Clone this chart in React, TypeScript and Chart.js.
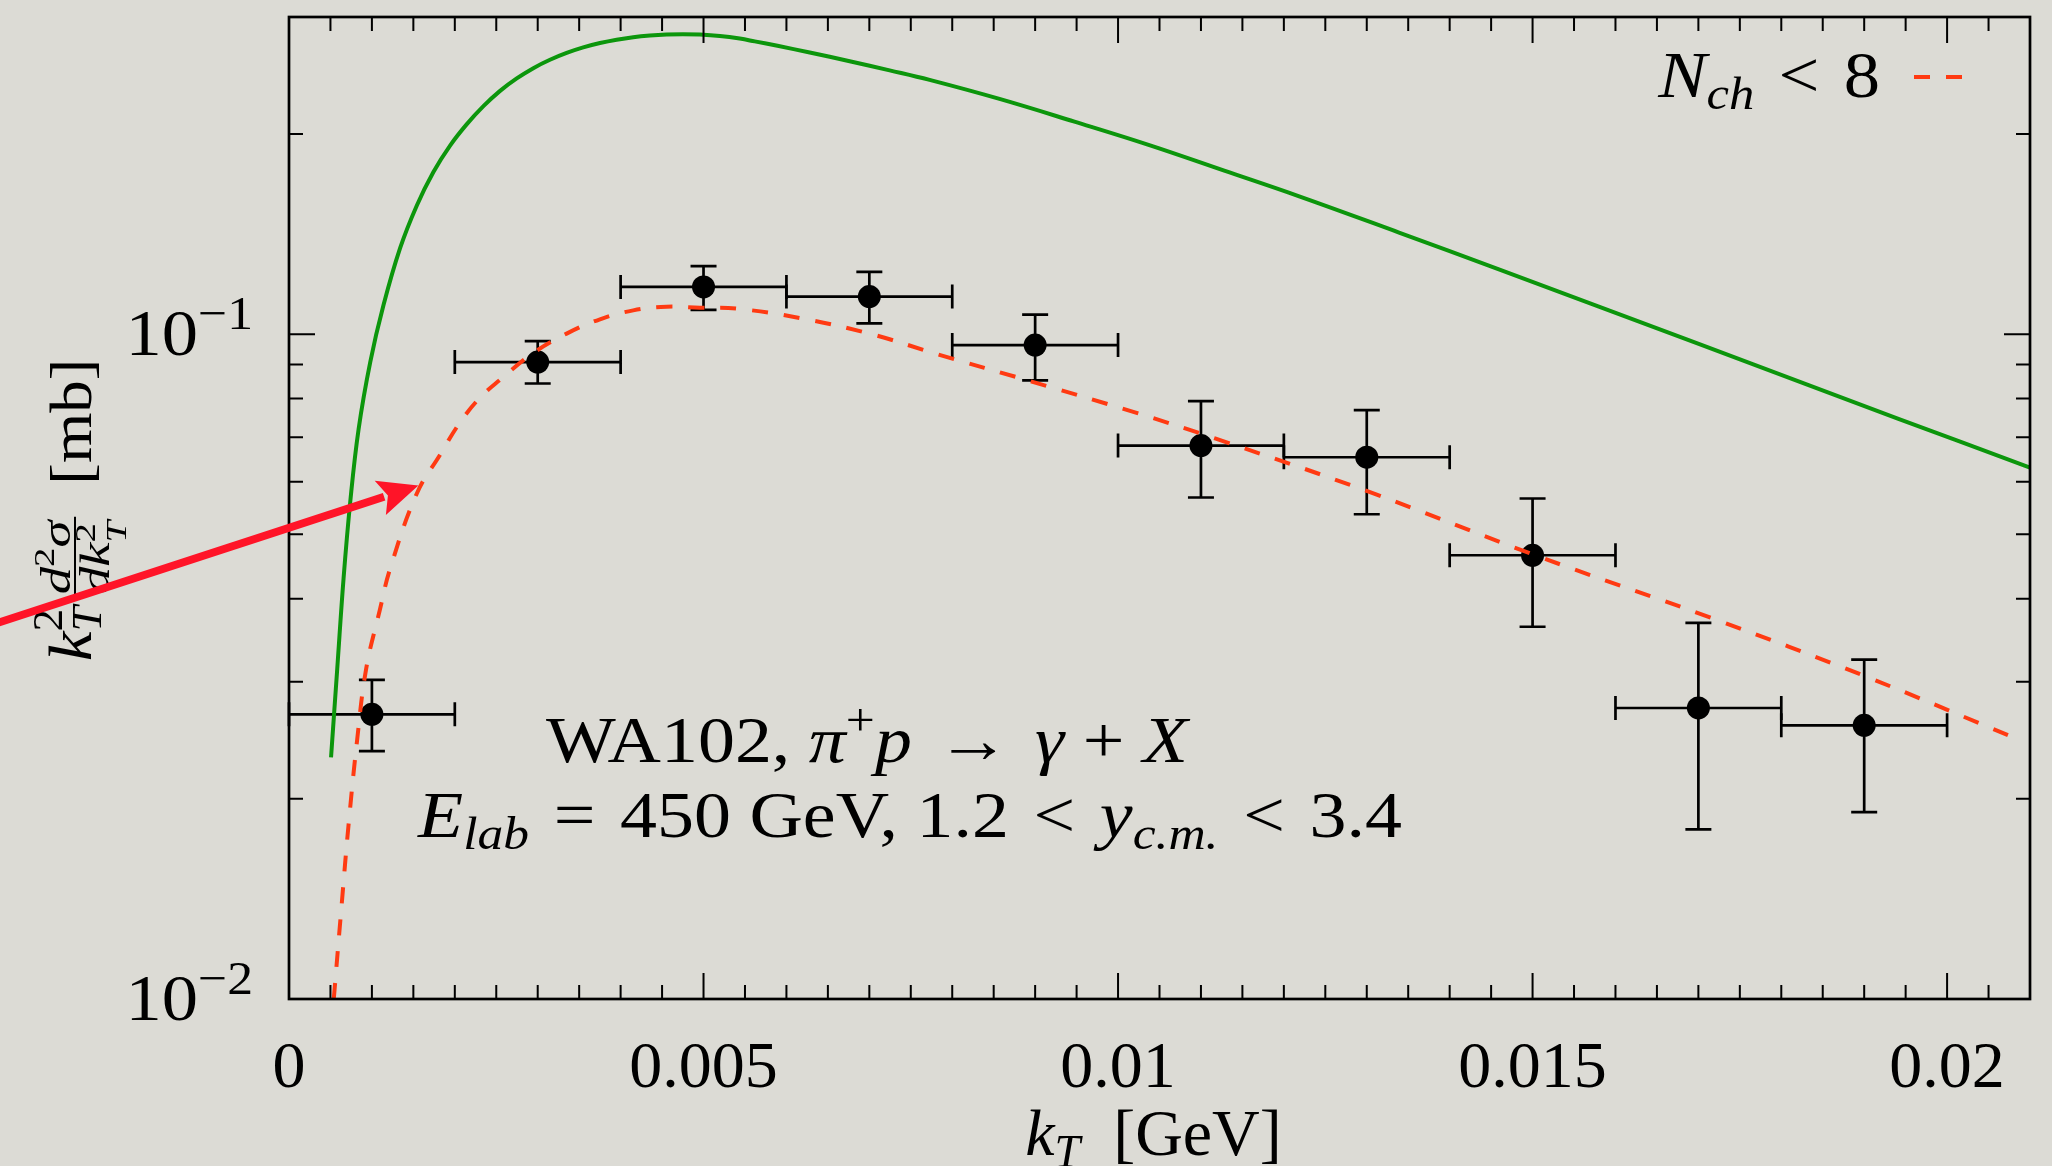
import React, { useEffect, useRef } from 'react';
import { Chart, registerables } from 'chart.js';

Chart.register(...registerables);

const FONT = '"Liberation Serif", "Times New Roman", serif';
const BG = '#dcdbd5';
const GREEN = '#0c960c';
const RED = '#ff3a12';
const ARROW_RED = '#ff1428';

// ---- measured data (WA102) ----
const dataKT = [0.001, 0.003, 0.005, 0.007, 0.009, 0.011, 0.013, 0.015, 0.017, 0.019];
const dataKTErr = [0.001, 0.001, 0.001, 0.001, 0.001, 0.001, 0.001, 0.001, 0.001, 0.001];
const dataValue = [0.0268, 0.0908, 0.1178, 0.1139, 0.0963, 0.068, 0.0653, 0.0465, 0.0274, 0.0258];
const dataUpper = [0.0302, 0.0976, 0.1266, 0.1241, 0.107, 0.0793, 0.0769, 0.0566, 0.0368, 0.0324];
const dataLower = [0.0236, 0.0843, 0.1088, 0.1038, 0.0852, 0.0568, 0.0536, 0.0363, 0.018, 0.0191];

// ---- green solid curve ----
const greenKT = [0.000507, 0.000582, 0.000658, 0.000739, 0.000839, 0.00098, 0.00114, 0.001341, 0.001542, 0.001742,
  0.001943, 0.002145, 0.002345, 0.002546, 0.002747, 0.002947, 0.003148, 0.003349, 0.003549, 0.003751,
  0.003952, 0.004152, 0.004353, 0.004554, 0.004751, 0.004955, 0.005197, 0.005437, 0.005618, 0.005892,
  0.006281, 0.006763, 0.007245, 0.007727, 0.00857, 0.009474, 0.010377, 0.011281, 0.012185, 0.013389,
  0.014594, 0.017004, 0.019413, 0.021];
const greenValue = [0.0231, 0.0314, 0.0429, 0.056, 0.0719, 0.0908, 0.1106, 0.1348, 0.1562, 0.1754,
  0.1922, 0.207, 0.2203, 0.2323, 0.2425, 0.2513, 0.2587, 0.2649, 0.27, 0.2741,
  0.2773, 0.2797, 0.2813, 0.2823, 0.2827, 0.2823, 0.2809, 0.2784, 0.2757, 0.2715,
  0.2653, 0.2574, 0.2494, 0.2413, 0.2259, 0.2088, 0.1925, 0.1762, 0.1612, 0.1422,
  0.1252, 0.0967, 0.0746, 0.063];

// ---- red dashed curve (N_ch < 8) ----
const redKT = [0.00054, 0.000636, 0.000717, 0.000823, 0.000931, 0.001094, 0.00122, 0.001542, 0.001823, 0.002064,
  0.002305, 0.002546, 0.002947, 0.003349, 0.003751, 0.004152, 0.004554, 0.004955, 0.005413, 0.006172,
  0.007004, 0.007834, 0.00894, 0.010184, 0.01117, 0.013015, 0.015012, 0.017164, 0.019007, 0.020813];
const redValue = [0.01, 0.0139, 0.0182, 0.0246, 0.0314, 0.0384, 0.0444, 0.0576, 0.0659, 0.0737,
  0.0803, 0.0854, 0.0937, 0.1002, 0.1053, 0.1086, 0.11, 0.1096, 0.1092, 0.1057,
  0.1002, 0.0932, 0.085, 0.0764, 0.0697, 0.058, 0.0466, 0.0374, 0.0306, 0.0247];

// ---- axes ----
const X_MIN = 0;
const X_MAX = 0.021;
const Y_MIN = 0.01;
const Y_MAX = 0.3;
const xMajorTicks = [0, 0.005, 0.01, 0.015, 0.02];
const xTickLabels = ['0', '0.005', '0.01', '0.015', '0.02'];
const X_MINOR_STEP = 0.0005;
const yMajorTicks = [0.01, 0.1];
const yTickExponents = ['\u22122', '\u22121'];
const yMinorTicks = [0.02, 0.03, 0.04, 0.05, 0.06, 0.07, 0.08, 0.09, 0.2, 0.3];

// arrow tip (data coordinates)
const arrowTip = { x: 0.00156, y: 0.0592 };

type Seg = { t: string; it?: boolean; size: number; dy?: number; stack?: boolean };

function fontOf(s: Seg) {
  return `${s.it ? 'italic ' : ''}${s.size}px ${FONT}`;
}

function segsWidth(ctx: CanvasRenderingContext2D, segs: Seg[], k = 1) {
  let w = 0;
  let pend = 0;
  for (const s of segs) {
    ctx.font = fontOf(s);
    const sw = ctx.measureText(s.t).width;
    if (s.stack) {
      pend = sw;
    } else {
      w += Math.max(sw, pend);
      pend = 0;
    }
  }
  return w * k;
}

function drawSegs(ctx: CanvasRenderingContext2D, segs: Seg[], x: number, y: number, k = 1) {
  ctx.save();
  ctx.translate(x, y);
  ctx.scale(k, 1);
  let cx = 0;
  let pend = 0;
  ctx.textAlign = 'left';
  ctx.textBaseline = 'alphabetic';
  for (const s of segs) {
    ctx.font = fontOf(s);
    const sw = ctx.measureText(s.t).width;
    ctx.fillText(s.t, cx, s.dy || 0);
    if (s.stack) {
      pend = sw;
    } else {
      cx += Math.max(sw, pend);
      pend = 0;
    }
  }
  ctx.restore();
  return x + cx * k;
}

const decor = {
  id: 'decor',
  beforeDraw(chart: any) {
    const { ctx, width, height } = chart;
    ctx.save();
    ctx.fillStyle = BG;
    ctx.fillRect(0, 0, width, height);
    ctx.restore();
  },
  beforeDatasetsDraw(chart: any) {
    const { ctx } = chart;
    const xs = chart.scales.x;
    const ys = chart.scales.y;
    ctx.save();
    ctx.strokeStyle = '#000';
    ctx.lineWidth = 2.7;
    const cap = 12;
    for (let i = 0; i < dataKT.length; i++) {
      const px = xs.getPixelForValue(dataKT[i]);
      const py = ys.getPixelForValue(dataValue[i]);
      const xl = xs.getPixelForValue(dataKT[i] - dataKTErr[i]);
      const xr = xs.getPixelForValue(dataKT[i] + dataKTErr[i]);
      const yt = ys.getPixelForValue(dataUpper[i]);
      const yb = ys.getPixelForValue(dataLower[i]);
      ctx.beginPath();
      ctx.moveTo(xl, py); ctx.lineTo(xr, py);
      ctx.moveTo(xl, py - cap); ctx.lineTo(xl, py + cap);
      ctx.moveTo(xr, py - cap); ctx.lineTo(xr, py + cap);
      ctx.moveTo(px, yt); ctx.lineTo(px, yb);
      ctx.moveTo(px - 13, yt); ctx.lineTo(px + 13, yt);
      ctx.moveTo(px - 13, yb); ctx.lineTo(px + 13, yb);
      ctx.stroke();
    }
    ctx.restore();
  },
  afterDraw(chart: any) {
    const { ctx, chartArea } = chart;
    const { left, right, top, bottom } = chartArea;
    const xs = chart.scales.x;
    const ys = chart.scales.y;
    ctx.save();
    ctx.fillStyle = '#000';
    ctx.strokeStyle = '#000';

    // ticks
    ctx.lineWidth = 2;
    const MAJ = 26;
    const MIN = 14;
    ctx.beginPath();
    for (const v of xMajorTicks) {
      const p = xs.getPixelForValue(v);
      ctx.moveTo(p, bottom); ctx.lineTo(p, bottom - MAJ);
      ctx.moveTo(p, top); ctx.lineTo(p, top + MAJ);
    }
    for (let i = 1; X_MIN + i * X_MINOR_STEP < X_MAX - 1e-9; i++) {
      if (i % 10 === 0) continue;
      const p = xs.getPixelForValue(X_MIN + i * X_MINOR_STEP);
      ctx.moveTo(p, bottom); ctx.lineTo(p, bottom - MIN);
      ctx.moveTo(p, top); ctx.lineTo(p, top + MIN);
    }
    for (const v of yMajorTicks) {
      const p = ys.getPixelForValue(v);
      ctx.moveTo(left, p); ctx.lineTo(left + MAJ, p);
      ctx.moveTo(right, p); ctx.lineTo(right - MAJ, p);
    }
    for (const v of yMinorTicks) {
      if (v >= Y_MAX) continue;
      const p = ys.getPixelForValue(v);
      ctx.moveTo(left, p); ctx.lineTo(left + MIN, p);
      ctx.moveTo(right, p); ctx.lineTo(right - MIN, p);
    }
    ctx.stroke();

    // frame
    ctx.lineWidth = 2.7;
    ctx.strokeRect(left, top, right - left, bottom - top);

    // x tick labels
    ctx.font = `66px ${FONT}`;
    ctx.textAlign = 'center';
    ctx.textBaseline = 'alphabetic';
    xMajorTicks.forEach((v, i) => {
      ctx.fillText(xTickLabels[i], xs.getPixelForValue(v), bottom + 88);
    });

    // y tick labels 10^{-n}
    yMajorTicks.forEach((v, i) => {
      const p = ys.getPixelForValue(v);
      const segs: Seg[] = [
        { t: '10', size: 66 },
        { t: yTickExponents[i], size: 47, dy: -26 },
      ];
      const k = 1.1;
      const w = segsWidth(ctx, segs, k);
      drawSegs(ctx, segs, left - 36 - w, p + 21, k);
    });

    // x axis title
    const xt: Seg[] = [
      { t: 'k', it: true, size: 66 },
      { t: 'T', it: true, size: 46, dy: 12 },
      { t: '  [GeV]', size: 66 },
    ];
    const xtw = segsWidth(ctx, xt);
    drawSegs(ctx, xt, (left + right) / 2 - 6 - xtw / 2, bottom + 156);

    // y axis title (rotated)
    ctx.save();
    ctx.translate(left - 198, (top + bottom) / 2 + 2);
    ctx.rotate(-Math.PI / 2);
    const MK = 1.08;
    const FK = 1.3;
    const kPart: Seg[] = [
      { t: 'k', it: true, size: 62 },
      { t: '2', size: 42, dy: -29, stack: true },
      { t: 'T', it: true, size: 42, dy: 10 },
    ];
    const num: Seg[] = [
      { t: 'd', it: true, size: 42 },
      { t: '2', size: 30, dy: -16 },
      { t: '\u03c3', it: true, size: 42 },
    ];
    const den: Seg[] = [
      { t: 'd', it: true, size: 42 },
      { t: 'k', it: true, size: 42 },
      { t: '2', size: 30, dy: -14, stack: true },
      { t: 'T', it: true, size: 30, dy: 17 },
    ];
    const mb: Seg[] = [{ t: '[mb]', size: 60 }];
    const kw = segsWidth(ctx, kPart, MK);
    const nw = segsWidth(ctx, num, FK);
    const dw = segsWidth(ctx, den, FK);
    const fw = Math.max(nw, dw) + 12;
    const gap = 30;
    const mw = segsWidth(ctx, mb, MK);
    const pre = 6;
    const total = kw + pre + fw + gap + mw;
    let u = -total / 2;
    drawSegs(ctx, kPart, u, 0, MK);
    u += kw + pre;
    ctx.lineWidth = 2;
    ctx.beginPath();
    ctx.moveTo(u + 2, -16);
    ctx.lineTo(u + fw - 2, -16);
    ctx.stroke();
    drawSegs(ctx, num, u + (fw - nw) / 2, -21, FK);
    drawSegs(ctx, den, u + (fw - dw) / 2, 18, FK);
    u += fw + gap;
    drawSegs(ctx, mb, u, 0, MK);
    ctx.restore();

    // annotation text
    const TK = 1.12;
    const R = '\u2004';
    const line1: Seg[] = [
      { t: 'WA102, ', size: 66 },
      { t: '\u03c0', it: true, size: 66 },
      { t: '+', size: 46, dy: -27 },
      { t: 'p', it: true, size: 66 },
      { t: R + '\u2192' + R, size: 66 },
      { t: '\u03b3', it: true, size: 66 },
      { t: ' + ', size: 66 },
      { t: 'X', it: true, size: 66 },
    ];
    const line2: Seg[] = [
      { t: 'E', it: true, size: 66 },
      { t: 'lab', it: true, size: 46, dy: 12 },
      { t: R + '=' + R + '450 GeV, 1.2' + R + '<' + R, size: 66 },
      { t: 'y', it: true, size: 66 },
      { t: 'c.m.', it: true, size: 46, dy: 12 },
      { t: R + '<' + R + '3.4', size: 66 },
    ];
    const l1w = segsWidth(ctx, line1, TK);
    const l2w = segsWidth(ctx, line2, TK);
    drawSegs(ctx, line1, left + 578 - l1w / 2, bottom - 237, TK);
    drawSegs(ctx, line2, left + 621 - l2w / 2, bottom - 162, TK);

    // legend
    const leg: Seg[] = [
      { t: 'N', it: true, size: 66 },
      { t: 'ch', it: true, size: 46, dy: 12 },
      { t: R + '<' + R + '8', size: 66 },
    ];
    const lw = segsWidth(ctx, leg, 1.1);
    drawSegs(ctx, leg, right - 150 - lw, top + 80, 1.1);
    ctx.strokeStyle = RED;
    ctx.lineWidth = 4;
    ctx.setLineDash([16, 16]);
    ctx.beginPath();
    ctx.moveTo(right - 116, top + 60);
    ctx.lineTo(right - 68, top + 60);
    ctx.stroke();
    ctx.setLineDash([]);

    // red arrow
    const tx = xs.getPixelForValue(arrowTip.x);
    const ty = ys.getPixelForValue(arrowTip.y);
    const slope = 0.3265;
    const sx = 0;
    const sy = ty + slope * tx;
    const dx = tx - sx;
    const dy = ty - sy;
    const len = Math.hypot(dx, dy);
    const ux = dx / len;
    const uy = dy / len;
    const headL = 40;
    const headW = 18;
    const bx = tx - ux * headL;
    const by = ty - uy * headL;
    ctx.strokeStyle = ARROW_RED;
    ctx.fillStyle = ARROW_RED;
    ctx.lineWidth = 8;
    ctx.beginPath();
    ctx.moveTo(sx - 10, sy + 10 * slope);
    ctx.lineTo(bx + ux * 4, by + uy * 4);
    ctx.stroke();
    ctx.beginPath();
    ctx.moveTo(tx, ty);
    ctx.lineTo(bx - uy * headW, by + ux * headW);
    ctx.lineTo(bx + ux * 8, by + uy * 8);
    ctx.lineTo(bx + uy * headW, by - ux * headW);
    ctx.closePath();
    ctx.fill();

    ctx.restore();
  },
};

export default function App() {
  const ref = useRef<HTMLCanvasElement | null>(null);
  useEffect(() => {
    const canvas = ref.current;
    if (!canvas) return;
    const chart = new Chart(canvas, {
      type: 'scatter',
      data: {
        datasets: [
          {
            label: 'WA102 data',
            data: dataKT.map((x, i) => ({ x, y: dataValue[i] })),
            pointRadius: 11.5,
            pointBackgroundColor: '#000',
            pointBorderColor: '#000',
            pointBorderWidth: 0,
            showLine: false,
            order: 3,
          } as any,
          {
            label: 'model',
            data: greenKT.map((x, i) => ({ x, y: greenValue[i] })),
            showLine: true,
            borderColor: GREEN,
            borderWidth: 4,
            pointRadius: 0,
            tension: 0.4,
            order: 2,
          } as any,
          {
            label: 'N_ch < 8',
            data: redKT.map((x, i) => ({ x, y: redValue[i] })),
            showLine: true,
            borderColor: RED,
            borderWidth: 4,
            borderDash: [16, 16],
            pointRadius: 0,
            tension: 0.4,
            order: 1,
          } as any,
        ],
      },
      options: {
        responsive: false,
        animation: false,
        devicePixelRatio: 1,
        events: [],
        layout: { padding: { left: 289, right: 22, top: 17, bottom: 167 } },
        scales: {
          x: { type: 'linear', min: X_MIN, max: X_MAX, display: false },
          y: { type: 'logarithmic', min: Y_MIN, max: Y_MAX, display: false },
        },
        plugins: { legend: { display: false }, tooltip: { enabled: false } },
      },
      plugins: [decor],
    } as any);
    return () => chart.destroy();
  }, []);
  return (
    <div style={{ position: 'absolute', left: 0, top: 0, width: 2052, height: 1166, background: BG }}>
      <canvas ref={ref} width={2052} height={1166} style={{ display: 'block', width: 2052, height: 1166 }} />
    </div>
  );
}
